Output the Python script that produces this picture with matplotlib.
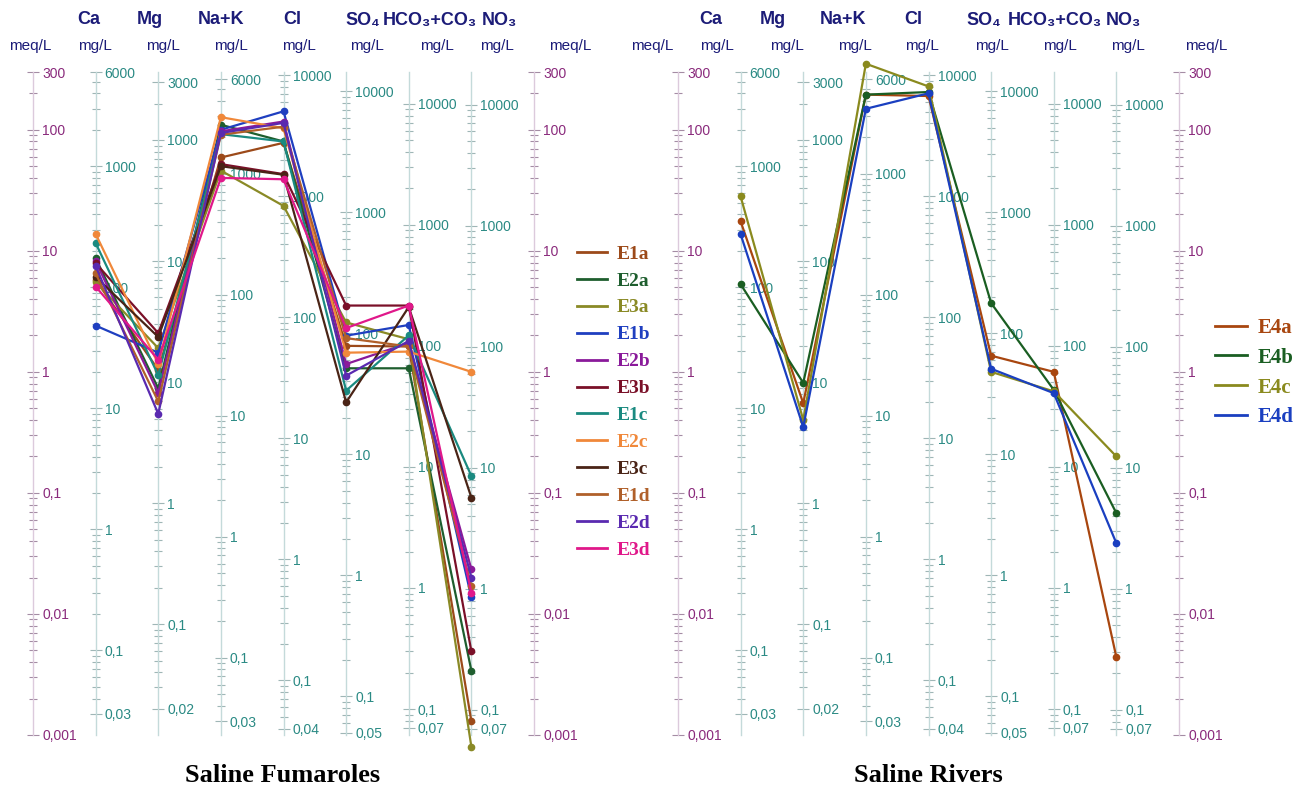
import numpy as np
import matplotlib
matplotlib.use("Agg")
import matplotlib.pyplot as plt
from matplotlib.ticker import FixedLocator, LogLocator, FuncFormatter, NullFormatter
from matplotlib.lines import Line2D

# --- axes definition (Schoeller diagram) ---
ions = ["Ca", "Mg", "Na+K", "Cl", "SO₄", "HCO₃+CO₃", "NO₃"]
eq_weight = [20.04, 12.15, 22.99, 35.45, 48.03, 61.02, 62.0]   # mg per meq
meq_ticks = [0.001, 0.01, 0.1, 1, 10, 100, 300]
mg_ticks = [
    [0.03, 0.1, 1, 10, 100, 1000, 6000],
    [0.02, 0.1, 1, 10, 100, 1000, 3000],
    [0.03, 0.1, 1, 10, 100, 1000, 6000],
    [0.04, 0.1, 1, 10, 100, 1000, 10000],
    [0.05, 0.1, 1, 10, 100, 1000, 10000],
    [0.07, 0.1, 1, 10, 100, 1000, 10000],
    [0.07, 0.1, 1, 10, 100, 1000, 10000],
]

# --- samples, meq/L in order Ca, Mg, Na+K, Cl, SO4, HCO3+CO3, NO3 ---
fumarole_names = ["E1a", "E2a", "E3a", "E1b", "E2b", "E3b",
                  "E1c", "E2c", "E3c", "E1d", "E2d", "E3d"]
fumarole_colors = ["#9c4a1a", "#1e5e2e", "#8a8a26", "#1f3fc0", "#8a1a9a", "#7a1028",
                   "#1a8a80", "#f0883a", "#4a2416", "#b0602a", "#5a2ab0", "#e0188a"]
e1a = [5.75, 1.04, 59, 78, 1.64, 1.62, 0.0013]
e2a = [8.7, 0.73, 110, 80, 1.07, 1.07, 0.0034]
e3a = [5.5, 1.57, 46, 23.5, 2.56, 1.86, 0.0008]
e1b = [2.41, 1.44, 100, 142, 1.99, 2.44, 0.0137]
e2b = [8.2, 0.67, 97, 117, 1.16, 1.73, 0.0234]
e3b = [7.9, 2.09, 52, 43, 3.53, 3.53, 0.0049]
e1c = [11.6, 0.94, 92, 80, 0.70, 2.0, 0.138]
e2c = [13.8, 1.16, 127, 103, 1.44, 1.47, 1.0]
e3c = [6.1, 1.94, 50, 42.5, 0.56, 3.43, 0.0914]
e1d = [6.5, 0.57, 91, 106, 1.9, 1.62, 0.017]
e2d = [7.5, 0.45, 94, 114, 0.93, 1.8, 0.02]
e3d = [5.07, 1.26, 40, 39, 2.30, 3.53, 0.015]
fumaroles = [e1a, e2a, e3a, e1b, e2b, e3b, e1c, e2c, e3c, e1d, e2d, e3d]

river_names = ["E4a", "E4b", "E4c", "E4d"]
river_colors = ["#a8460f", "#1a5e22", "#8a8a1e", "#1a3fc0"]
e4a = [17.5, 0.55, 195, 190, 1.36, 1.0, 0.00439]
e4b = [5.3, 0.81, 195, 205, 3.70, 0.71, 0.068]
e4c = [28.1, 0.40, 351, 228, 1.0, 0.69, 0.2]
e4d = [13.7, 0.35, 149, 200, 1.06, 0.667, 0.0384]
rivers = [e4a, e4b, e4c, e4d]

W, H = 1300, 790
NAVY = "#1c1c78"
MEQ_TXT, MEQ_SPINE, MEQ_TICK = "#8a2a7c", "#dccadc", "#a48ca4"
MG_TXT, MG_SPINE, MG_TICK = "#2a8a84", "#c4dada", "#9fb6b6"


def fmt(v, pos=None):
    if v >= 1:
        return f"{v:.0f}"
    return f"{v:g}".replace(".", ",")


def add_scale(ax, loc, factor, ticks, txt, spine, tick):
    sec = ax.secondary_yaxis(loc, functions=(lambda v, f=factor: v * f,
                                             lambda v, f=factor: v / f))
    sec.set_alignment("right")
    sec.spines["right"].set_color(spine)
    sec.spines["right"].set_linewidth(1.0)
    sec.yaxis.set_major_locator(FixedLocator(ticks))
    sec.yaxis.set_major_formatter(FuncFormatter(fmt))
    sec.yaxis.set_minor_locator(LogLocator(base=10, subs=np.arange(2, 10), numticks=30))
    sec.yaxis.set_minor_formatter(NullFormatter())
    sec.tick_params(which="major", direction="inout", length=9, width=0.8,
                    color=tick, labelcolor=txt, labelsize=10, pad=2)
    sec.tick_params(which="minor", direction="inout", length=5.5, width=0.8, color=tick)
    for lab in sec.get_yticklabels():
        lab.set_family("Liberation Sans")
    return sec


def draw_panel(x0, samples, names, colors, title, header_x, unit_x, legend_xy,
               legend_size, legend_gap):
    ax = fig.add_axes([x0 / W, (H - 735) / H, 501 / W, 663 / H])
    ax.set_yscale("log")
    ax.set_ylim(0.001, 300)
    ax.set_xlim(0, 8)
    ax.patch.set_visible(False)
    for s in ax.spines.values():
        s.set_visible(False)
    ax.set_xticks([])
    ax.tick_params(axis="y", which="both", left=False, labelleft=False)

    add_scale(ax, 0.0, 1.0, meq_ticks, MEQ_TXT, MEQ_SPINE, MEQ_TICK)
    for i, (w, t) in enumerate(zip(eq_weight, mg_ticks)):
        add_scale(ax, (i + 1) / 8, w, t, MG_TXT, MG_SPINE, MG_TICK)
    add_scale(ax, 1.0, 1.0, meq_ticks, MEQ_TXT, MEQ_SPINE, MEQ_TICK)

    xs = np.arange(1, len(ions) + 1)
    for vals, c in zip(samples, colors):
        ax.plot(xs, vals, color=c, lw=1.6, marker="o", ms=4.5, clip_on=False, zorder=3)

    for name, hx in zip(ions, header_x):
        fig.text(hx / W, 1 - 20 / H, name, ha="center", va="center", color=NAVY,
                 fontsize=13, fontweight="bold", family=["Liberation Sans", "DejaVu Sans"])
    units = ["meq/L"] + ["mg/L"] * len(ions) + ["meq/L"]
    for u, ux in zip(units, unit_x):
        fig.text(ux / W, 1 - 46 / H, u, ha="center", va="center", color=NAVY,
                 fontsize=11, family="Liberation Sans")

    fig.text((x0 + 250) / W, 1 - 776 / H, title, ha="center", va="center",
             fontsize=19, fontweight="bold", family="Liberation Serif")

    handles = [Line2D([], [], color=c, lw=2) for c in colors]
    fig.legend(handles, names, loc="upper left",
               bbox_to_anchor=(legend_xy[0] / W, 1 - legend_xy[1] / H),
               frameon=False, labelcolor="linecolor", handlelength=1.55,
               handletextpad=0.5, labelspacing=legend_gap, borderpad=0, borderaxespad=0,
               prop={"family": "Liberation Serif", "weight": "bold", "size": legend_size})
    return ax


fig = plt.figure(figsize=(13, 7.9), dpi=100)
fig.patch.set_facecolor("white")

draw_panel(33, fumaroles, fumarole_names, fumarole_colors, "Saline Fumaroles",
           [89, 150, 221, 292, 363, 430, 499],
           [30, 95, 163, 231, 299, 367, 437, 497, 570],
           (577, 245), 14, 0.48)
draw_panel(678, rivers, river_names, river_colors, "Saline Rivers",
           [711, 773, 843, 913, 984, 1055, 1123],
           [652, 717, 787, 855, 922, 992, 1060, 1128, 1206],
           (1215, 318), 15, 0.47)

fig.savefig("out.png", dpi=100, facecolor="white")
